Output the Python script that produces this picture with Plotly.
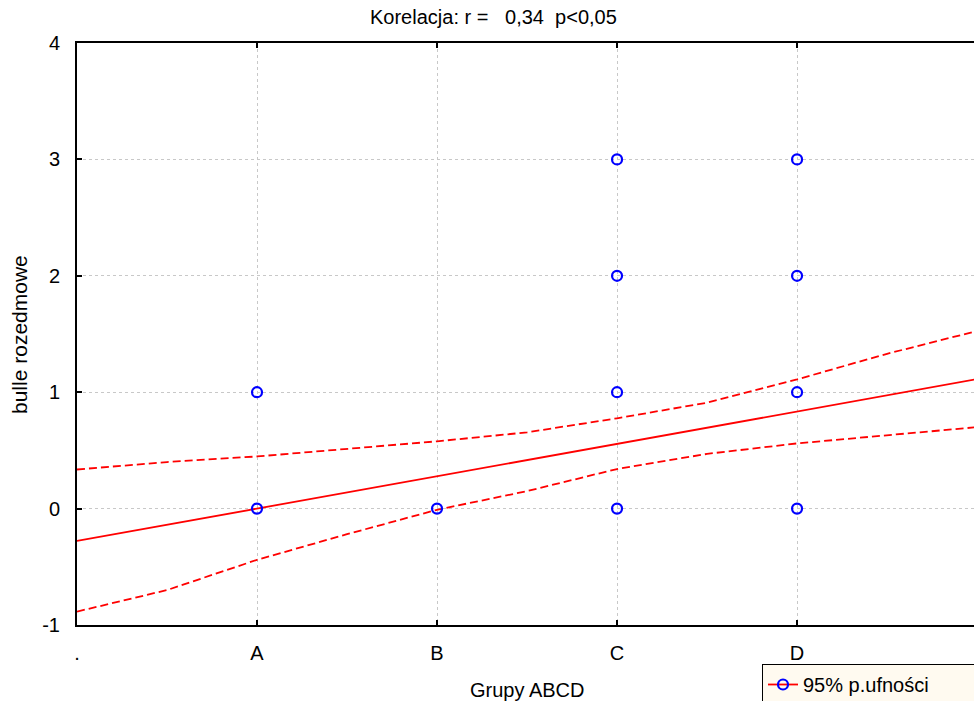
import plotly.graph_objects as go

# Data
tick_vals = [0, 1, 2, 3, 4]
tick_text = [".", "A", "B", "C", "D"]
y_tick_vals = [-1, 0, 1, 2, 3, 4]
y_tick_text = ["-1", "0", "1", "2", "3", "4"]
pts_x = [1, 1, 2, 3, 3, 3, 3, 4, 4, 4, 4]
pts_y = [0, 1, 0, 0, 1, 2, 3, 0, 1, 2, 3]
fit_x = [0, 5]
fit_y = [-0.278, 1.112]
band_x = [0, 0.5, 1, 1.5, 2, 2.5, 3, 3.5, 4, 4.5, 5]
upper_y = [0.336, 0.40, 0.448, 0.51, 0.578, 0.655, 0.776, 0.91, 1.11, 1.33, 1.526]
lower_y = [-0.885, -0.70, -0.44, -0.22, -0.01, 0.15, 0.34, 0.47, 0.56, 0.63, 0.70]

FONT = "Liberation Sans, Arial, sans-serif"
NB = "\u00a0"

fig = go.Figure()
fig.add_trace(go.Scatter(x=band_x, y=upper_y, mode="lines", showlegend=False,
                         line=dict(color="#ff0000", width=1.8, dash="8px,4px")))
fig.add_trace(go.Scatter(x=band_x, y=lower_y, mode="lines", showlegend=False,
                         line=dict(color="#ff0000", width=1.8, dash="8px,4px")))
fig.add_trace(go.Scatter(x=fit_x, y=fit_y, mode="lines", showlegend=False,
                         line=dict(color="#ff0000", width=1.8)))
fig.add_trace(go.Scatter(x=pts_x, y=pts_y, mode="markers", showlegend=False,
                         marker=dict(symbol="circle-open", size=10, color="#0000ff",
                                     line=dict(width=2.2, color="#0000ff"))))
fig.add_trace(go.Scatter(x=[None], y=[None], mode="lines+markers",
                         name="95% p.ufności" + NB * 8,
                         line=dict(color="#ff0000", width=1.8),
                         marker=dict(symbol="circle-open", size=10, color="#0000ff",
                                     line=dict(width=2.2, color="#0000ff"))))

title_text = "Korelacja: r =" + NB * 3 + "0,34" + NB * 2 + "p<0,05"

fig.update_layout(
    width=974, height=701,
    margin=dict(l=77, r=0, t=43, b=76, autoexpand=False),
    paper_bgcolor="white", plot_bgcolor="white",
    font=dict(family=FONT, size=20, color="black"),
    showlegend=True,
    legend=dict(x=(762 - 77) / 897, y=-(664 - 625) / 582, xanchor="left", yanchor="top",
                bgcolor="#fffaf0", bordercolor="black", borderwidth=1,
                font=dict(size=20, family=FONT), itemwidth=30,
                tracegroupgap=0),
    xaxis=dict(range=[0, 4.983], tickvals=tick_vals, ticktext=tick_text,
               showline=True, linecolor="black", linewidth=2, mirror="ticks",
               ticks="inside", ticklen=5, tickcolor="black", tickwidth=1.5,
               showgrid=True, gridcolor="#c8c8c8", griddash="dot", gridwidth=1,
               zeroline=False, ticklabelstandoff=9,
               tickfont=dict(size=20, family=FONT)),
    yaxis=dict(range=[-1, 4], tickvals=y_tick_vals, ticktext=y_tick_text,
               showline=True, linecolor="black", linewidth=2, mirror=False,
               ticks="inside", ticklen=5, tickcolor="black", tickwidth=1.5,
               showgrid=True, gridcolor="#c8c8c8", griddash="dot", gridwidth=1,
               zeroline=False, ticklabelstandoff=11,
               tickfont=dict(size=20, family=FONT)),
    annotations=[
        dict(text=title_text, xref="paper", yref="paper",
             x=(493 - 77) / 897, y=1 + (43 - 17) / 582, xanchor="center", yanchor="middle",
             showarrow=False, font=dict(size=20, family=FONT)),
        dict(text="Grupy ABCD", xref="paper", yref="paper",
             x=(527 - 77) / 897, y=-(690 - 625) / 582, xanchor="center", yanchor="middle",
             showarrow=False, font=dict(size=20, family=FONT)),
        dict(text="bulle rozedmowe", xref="paper", yref="paper", textangle=-90,
             x=-(77 - 19) / 897, y=(625 - 335) / 582, xanchor="center", yanchor="middle",
             showarrow=False, font=dict(size=21, family=FONT)),
    ],
)
fig.write_html("out.html")
